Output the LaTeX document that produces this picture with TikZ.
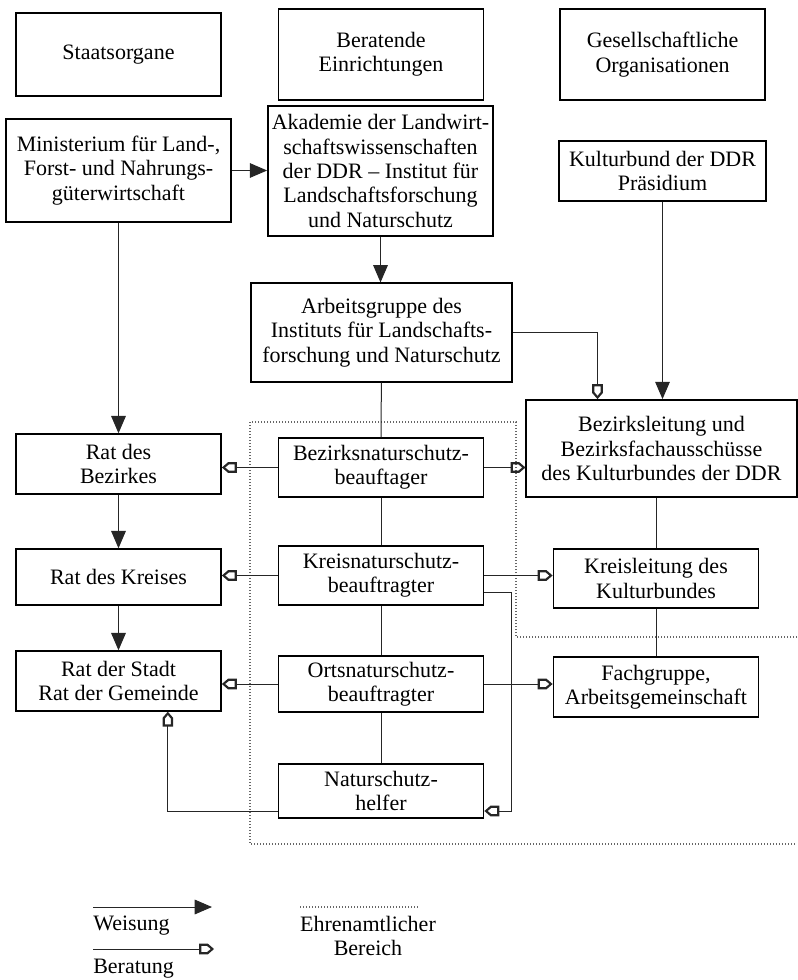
\documentclass[tikz,border=0pt]{standalone}
\usepackage{fontspec}
\setmainfont{Liberation Serif}
\usetikzlibrary{arrows.meta}

% offene Spitze fuer Beratung
\pgfdeclarearrow{
  name = Haus,
  setup code = {
    \pgfarrowssettipend{1.2pt}
    \pgfarrowssetlineend{-9pt}
    \pgfarrowssetbackend{-10pt}
    \pgfarrowshullpoint{1.2pt}{0pt}
    \pgfarrowsupperhullpoint{-10pt}{4pt}
  },
  drawing code = {
    \pgfseteorule
    \pgfpathmoveto{\pgfqpoint{1.2pt}{0pt}}
    \pgfpathlineto{\pgfqpoint{-3.4pt}{4pt}}
    \pgfpathlineto{\pgfqpoint{-10pt}{4pt}}
    \pgfpathlineto{\pgfqpoint{-10pt}{-4pt}}
    \pgfpathlineto{\pgfqpoint{-3.4pt}{-4pt}}
    \pgfpathclose
    \pgfpathmoveto{\pgfqpoint{-1.2pt}{0pt}}
    \pgfpathlineto{\pgfqpoint{-4pt}{2.3pt}}
    \pgfpathlineto{\pgfqpoint{-8.3pt}{2.3pt}}
    \pgfpathlineto{\pgfqpoint{-8.3pt}{-2.3pt}}
    \pgfpathlineto{\pgfqpoint{-4pt}{-2.3pt}}
    \pgfpathclose
    \pgfusepathqfill
  }
}

\begin{document}
\begin{tikzpicture}[
    x=0.75pt, y=-0.75pt,
    amt/.style={draw, line width=1.1pt, fill=white, align=center, inner sep=2pt,
      font=\fontsize{16.5}{18.2}\selectfont, minimum width=154pt, minimum height=44pt},
    link/.style={draw=black!85, line width=0.75pt},
    weisung/.style={link, -{Triangle[length=13pt, width=11pt]}},
    beratung/.style={link, -Haus},
    ehrenamt/.style={draw=black!60, line width=0.8pt, dash pattern=on 0.75pt off 1.5pt},
    legende/.style={font=\fontsize{16.5}{18.2}\selectfont, inner sep=0pt}
]
\useasboundingbox (0,0) rectangle (797,980);

% Kopfzeile
\node[amt, minimum height=62pt] (staat) at (118.5,54.5) {Staatsorgane};
\node[amt, minimum height=68pt] (berat) at (381,54.5) {Beratende\\Einrichtungen};
\node[amt, minimum height=68pt] (gesell) at (662.5,54.5) {Gesellschaftliche\\Organisationen};

% obere Ebene
\node[amt, minimum width=169pt, minimum height=77pt] (minist) at (118.5,170.5) {Ministerium für Land-,\\Forst- und Nahrungs-\\güterwirtschaft};
\node[amt, minimum width=169pt, minimum height=97.5pt] (akad) at (380.5,171) {Akademie der Landwirt-\\schaftswissenschaften\\der DDR -- Institut für\\Landschaftsforschung\\und Naturschutz};
\node[amt, minimum width=155pt, minimum height=45pt] (praes) at (662.5,171) {Kulturbund der DDR\\Präsidium};
\node[amt, minimum width=196pt, minimum height=74pt] (arbgr) at (381.5,332.5) {Arbeitsgruppe des\\Instituts für Landschafts-\\forschung und Naturschutz};
\node[amt, minimum width=203pt, minimum height=73pt] (bzleit) at (661.5,448.5) {Bezirksleitung und\\Bezirksfachausschüsse\\des Kulturbundes der DDR};

% Bezirk, Kreis, Ort
\node[amt, minimum height=45pt] (ratbez) at (118.5,464) {Rat des\\Bezirkes};
\node[amt] (bznat) at (381,467.5) {Bezirksnaturschutz-\\beauftager};
\node[amt, minimum height=42pt] (ratkr) at (118.5,577) {Rat des Kreises};
\node[amt] (krnat) at (381,575.5) {Kreisnaturschutz-\\beauftragter};
\node[amt] (krleit) at (656,578.5) {Kreisleitung des\\Kulturbundes};
\node[amt, minimum height=45pt] (ratst) at (118.5,681) {Rat der Stadt\\Rat der Gemeinde};
\node[amt, minimum height=42pt] (onat) at (381,684) {Ortsnaturschutz-\\beauftragter};
\node[amt, minimum height=45pt] (fachg) at (656,687) {Fachgruppe,\\Arbeitsgemeinschaft};
\node[amt, minimum height=40.5pt] (helfer) at (381,791) {Naturschutz-\\helfer};

% ehrenamtlicher Bereich
\draw[ehrenamt] (797,637) -- (516,637) -- (516,422) -- (250,422) -- (250,844) -- (797,844);

% Weisung
\draw[weisung] (minist.east) -- (minist.east -| akad.west);
\draw[weisung] (akad.south) -- (akad.south |- arbgr.north);
\draw[weisung] (minist.south) -- (minist.south |- ratbez.north);
\draw[weisung] (ratbez) -- (ratkr);
\draw[weisung] (ratkr) -- (ratst);
\draw[weisung] (praes.south) -- (praes.south |- bzleit.north);

% Beratung
\draw[beratung] (arbgr.east) -| ([xshift=-48pt]bzleit.north);
\draw[beratung] (bznat.west) -- (bznat.west -| ratbez.east);
\draw[beratung] (bznat.east) -- (bznat.east -| bzleit.west);
\draw[beratung] (krnat.west) -- (krnat.west -| ratkr.east);
\draw[beratung] (krnat.east) -- (krnat.east -| krleit.west);
\draw[beratung] ([yshift=-13pt]krnat.east) -- ++(27,0) |- ([yshift=-15pt]helfer.east);
\draw[beratung] (onat.west) -- (onat.west -| ratst.east);
\draw[beratung] (onat.east) -- (onat.east -| fachg.west);
\draw[beratung] ([yshift=-15pt]helfer.west) -| ([xshift=37pt]ratst.south);

% Verbindungen
\draw[link] (arbgr) -- (bznat);
\draw[link] (bznat) -- (krnat);
\draw[link] (krnat) -- (onat);
\draw[link] (onat) -- (helfer);
\draw[link] (bzleit.south -| krleit.north) -- (krleit.north);
\draw[link] (krleit) -- (fachg);

% Legende
\coordinate (wA) at (93,907);
\coordinate (wB) at (212,907);
\draw[weisung] (wA) -- (wB);
\node[legende, anchor=north west] (weisTxt) at (93,916) {Weisung};
\coordinate (bA) at (93,949);
\coordinate (bB) at (214,949);
\draw[beratung] (bA) -- (bB);
\node[legende, anchor=north west] (beratTxt) at (93,959) {Beratung};
\coordinate (eA) at (300,907);
\coordinate (eB) at (418,907);
\draw[ehrenamt] (eA) -- (eB);
\node[legende, align=center, anchor=north] (ehrenTxt) at (368,916) {Ehrenamtlicher\\Bereich};

\end{tikzpicture}
\end{document}
